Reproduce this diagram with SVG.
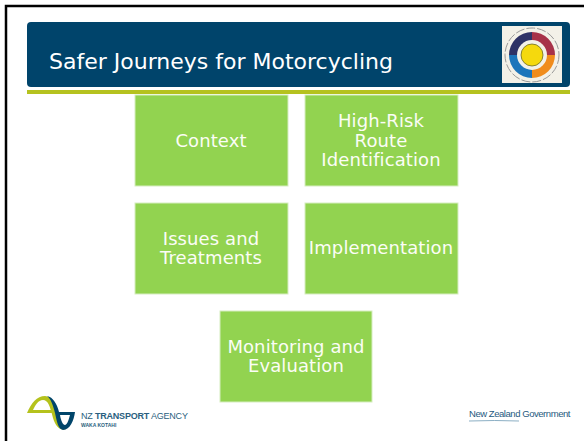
<svg xmlns="http://www.w3.org/2000/svg" width="584" height="441" viewBox="0 0 584 441">
<style>
.box{fill:#92d350;stroke:#d6edc0;stroke-width:1}
.t{font-family:"DejaVu Sans",sans-serif;font-size:18px;fill:#fbfdf6;text-anchor:middle;letter-spacing:.1px}
</style>
<defs><filter id="b" x="-10%" y="-10%" width="120%" height="120%"><feGaussianBlur stdDeviation=".5"/></filter><filter id="s" x="-5%" y="-20%" width="110%" height="140%"><feGaussianBlur stdDeviation=".3"/></filter></defs>
<rect width="584" height="441" fill="#fff"/>
<path d="M6 441V6H584" fill="none" stroke="#000" stroke-width="2.5"/>
<g id="header">
<rect x="27" y="22" width="543" height="65" rx="4" fill="#00446b"/>
<rect x="27" y="90" width="543" height="4" fill="#b5c21f"/>
<text x="49" y="69" font-family="'DejaVu Sans',sans-serif" font-size="22" fill="#fff">Safer Journeys for Motorcycling</text>
</g>
<g id="wheel" filter="url(#b)">
<rect x="502" y="26" width="60" height="57" fill="#f3f1e8"/>
<path d="M532 32A23 23 0 0 1 555 55H544A12 12 0 0 0 532 43Z" fill="#a7324a"/>
<path d="M555 55A23 23 0 0 1 532 78V67A12 12 0 0 0 544 55Z" fill="#f08c1e"/>
<path d="M532 78A23 23 0 0 1 509 55H520A12 12 0 0 0 532 67Z" fill="#1b75bb"/>
<path d="M509 55A23 23 0 0 1 532 32V43A12 12 0 0 0 520 55Z" fill="#2f3166"/>
<circle cx="532" cy="55" r="15" fill="#f3f1e8"/>
<circle cx="532" cy="55" r="11" fill="#f5d90a" stroke="#6b6b2a" stroke-width=".8"/>
<circle cx="532" cy="55" r="27" fill="none" stroke="#999" stroke-width="1" stroke-dasharray="9 2"/>
</g>
<g id="context"><rect class="box" x="135" y="95" width="153" height="91"/><text class="t" x="211" y="147">Context</text></g>
<g id="high-risk"><rect class="box" x="305" y="95" width="153" height="91"/><text class="t" x="381" y="127">High-Risk</text><text class="t" x="381" y="147">Route</text><text class="t" x="381" y="166">Identification</text></g>
<g id="issues"><rect class="box" x="135" y="203" width="153" height="91"/><text class="t" x="211" y="245">Issues and</text><text class="t" x="211" y="264">Treatments</text></g>
<g id="implementation"><rect class="box" x="305" y="203" width="153" height="91"/><text class="t" x="381" y="254">Implementation</text></g>
<g id="monitoring"><rect class="box" x="220" y="311" width="152" height="91"/><text class="t" x="296" y="353">Monitoring and</text><text class="t" x="296" y="372">Evaluation</text></g>
<g id="nzta">
<g filter="url(#s)">
<path d="M27 413C31 403 37 396 45 396C52 396 55 405 57 415C59 423 61 428 66 429C60 431 56 427 53 418C50 406 48 400 43 400C38 400 35 406 33 410H52L53 413Z" fill="#b5c21f"/>
<path d="M47 396C53 397 57 404 59 412H75C74 420 70 430 63 430C58 429 57 422 55 413C53 405 51 399 47 396ZM60 415C61 421 63 425 65 425C68 424 69 418 70 415Z" fill="#00446b" fill-rule="evenodd"/>
</g>
<text x="81" y="419" font-family="'Liberation Sans',sans-serif" font-size="9" fill="#2a5f80" letter-spacing="-.2">NZ <tspan font-weight="bold">TRANSPORT</tspan> AGENCY</text>
<text x="81" y="427" font-family="'Liberation Sans',sans-serif" font-size="5" font-weight="bold" fill="#2a5f80">WAKA KOTAHI</text>
</g>
<g id="nzgov">
<text x="469" y="417" font-family="'Liberation Sans',sans-serif" font-size="9.5" fill="#1f5a80" letter-spacing="-.45">New Zealand Government</text>
<path d="M469 421Q495 420 519 421" stroke="#6f9ab5" stroke-width=".8" fill="none"/>
</g>
</svg>
